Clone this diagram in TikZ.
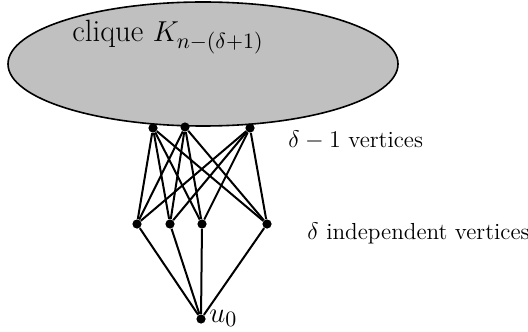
\documentclass[tikz,border=0pt]{standalone}
\usetikzlibrary{shapes.geometric}
\definecolor{cliquegray}{RGB}{192,192,192}
\begin{document}
\begin{tikzpicture}[x=0.5pt,y=-0.5pt,
  vtx/.style={circle,fill=black,inner sep=0pt,minimum size=4.6pt},
  edge/.style={line width=1pt},
  lbl/.style={inner sep=0pt,anchor=west,font=\fontsize{11.6}{14}\selectfont}]
\useasboundingbox (0,0) rectangle (528,331);
\node[ellipse,draw=black,line width=0.8pt,fill=cliquegray,minimum width=195pt,minimum height=62pt,inner sep=0pt] (K) at (203,64) {};
\node[inner sep=0pt,anchor=west,font=\fontsize{15.4}{18}\selectfont] (kl) at (72,37) {clique $K_{n-(\delta+1)}$};
\node[vtx] (t1) at (153,128) {};
\node[vtx] (t2) at (185,127) {};
\node[vtx] (t3) at (250,128) {};
\node[vtx] (m1) at (137,224) {};
\node[vtx] (m2) at (170,224) {};
\node[vtx] (m3) at (202,224) {};
\node[vtx] (m4) at (267,224) {};
\node[vtx] (u) at (201,319) {};
\foreach \t in {t1,t2,t3}{\foreach \m in {m1,m2,m3,m4}{\draw[edge] (\t) -- (\m);}}
\foreach \m in {m1,m2,m3,m4}{\draw[edge] (\m) -- (u);}
\node[lbl] (l1) at (288,140) {$\delta-1$ vertices};
\node[lbl] (l2) at (307,233) {$\delta$ independent vertices};
\node[inner sep=0pt,anchor=west,font=\fontsize{15.4}{18}\selectfont] (ul) at (209,318) {$u_0$};
\end{tikzpicture}
\end{document}
